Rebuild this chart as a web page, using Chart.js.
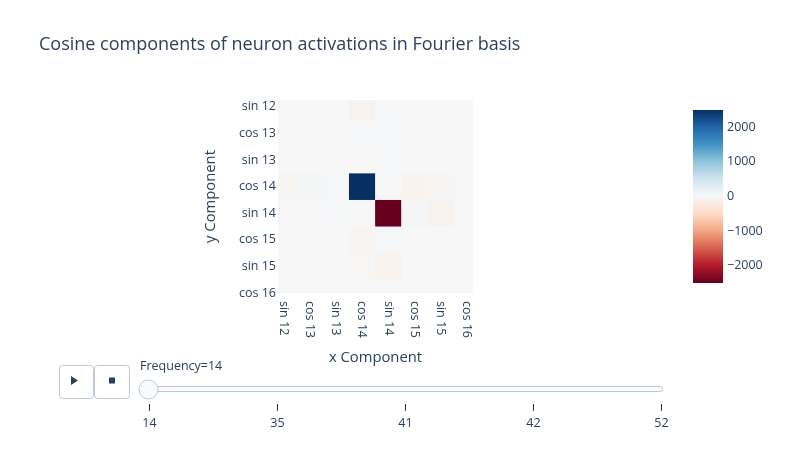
<!DOCTYPE html>
<html lang="en">
<head>
<meta charset="UTF-8">
<title>Cosine components of neuron activations</title>
<script src="https://cdn.jsdelivr.net/npm/chart.js"></script>
<style>
  html, body { margin: 0; padding: 0; background: #fff; }
  canvas { display: block; }
</style>
</head>
<body>
<canvas id="heat" width="785" height="450"></canvas>
<script>
// labels along both axes (x: columns, y: rows top to bottom)
const xLabels = ['sin 12', 'cos 13', 'sin 13', 'cos 14', 'sin 14', 'cos 15', 'sin 15', 'cos 16'];
const yLabels = ['sin 12', 'cos 13', 'sin 13', 'cos 14', 'sin 14', 'cos 15', 'sin 15', 'cos 16'];

// values for frame Frequency=14, one row per y label
const zRows = [
  [0, 0, 0, -90, 25, 0, 0, 0],
  [0, 0, 0, 35, 25, 0, 0, 0],
  [0, 0, 0, -25, 35, 0, 0, 0],
  [-60, 40, 20, 2500, 5, -80, -40, -15],
  [15, 15, 30, 5, -2500, 45, -90, -15],
  [0, 0, 0, -60, 35, 0, 0, 0],
  [0, 0, 0, -20, -85, 0, 0, 0],
  [0, 0, 0, 0, 10, 0, 0, 0]
];

const colorbarTicks = [2000, 1000, 0, -1000, -2000];
const frequencies = [14, 35, 41, 42, 52];
const zMin = -2500;
const zMax = 2500;

const TEXT = '#2a3f5f';
const FONT = '"Open Sans", verdana, arial, sans-serif';

// RdBu diverging scale (low = red, high = blue)
const rdbu = [
  [103, 0, 31], [178, 24, 43], [214, 96, 77], [244, 165, 130], [253, 219, 199],
  [247, 247, 247], [209, 229, 240], [146, 197, 222], [67, 147, 195], [33, 102, 172], [5, 48, 97]
];

function colorFor(v) {
  let t = (v - zMin) / (zMax - zMin);
  t = Math.max(0, Math.min(1, t)) * (rdbu.length - 1);
  const i = Math.min(Math.floor(t), rdbu.length - 2);
  const f = t - i;
  const a = rdbu[i], b = rdbu[i + 1];
  const c = a.map((ch, k) => Math.round(ch + (b[k] - ch) * f));
  return 'rgb(' + c.join(',') + ')';
}

const cells = [];
zRows.forEach((row, yi) => row.forEach((v, xi) => cells.push({ x: xi, y: yi, v: v })));

const heatmapCells = {
  id: 'heatmapCells',
  beforeDatasetsDraw(chart) {
    const { ctx, chartArea: a, scales: { x, y } } = chart;
    ctx.save();
    ctx.beginPath();
    ctx.rect(a.left, a.top, a.right - a.left, a.bottom - a.top);
    ctx.clip();
    chart.data.datasets[0].data.forEach(p => {
      const x0 = x.getPixelForValue(p.x - 0.5), x1 = x.getPixelForValue(p.x + 0.5);
      const y0 = y.getPixelForValue(p.y - 0.5), y1 = y.getPixelForValue(p.y + 0.5);
      ctx.fillStyle = colorFor(p.v);
      ctx.fillRect(Math.min(x0, x1), Math.min(y0, y1), Math.abs(x1 - x0) + 0.5, Math.abs(y1 - y0) + 0.5);
    });
    ctx.restore();
  }
};

const extras = {
  id: 'extras',
  afterDraw(chart) {
    const { ctx, chartArea: a, scales: { x } } = chart;
    ctx.save();

    // title
    ctx.fillStyle = TEXT;
    ctx.font = '18px ' + FONT;
    ctx.textAlign = 'left';
    ctx.textBaseline = 'middle';
    ctx.fillText('Cosine components of neuron activations in Fourier basis', 39, 45);

    // x tick labels, turned clockwise like the original
    ctx.font = '12.5px ' + FONT;
    xLabels.forEach((lab, i) => {
      ctx.save();
      ctx.translate(x.getPixelForValue(i), a.bottom + 8);
      ctx.rotate(Math.PI / 2);
      ctx.textAlign = 'left';
      ctx.textBaseline = 'middle';
      ctx.fillText(lab, 0, 0);
      ctx.restore();
    });

    // colorbar
    const cb = { left: 693, top: 110, width: 30, height: 173 };
    const grad = ctx.createLinearGradient(0, cb.top + cb.height, 0, cb.top);
    rdbu.forEach((c, i) => grad.addColorStop(i / (rdbu.length - 1), 'rgb(' + c.join(',') + ')'));
    ctx.fillStyle = grad;
    ctx.fillRect(cb.left, cb.top, cb.width, cb.height);
    ctx.fillStyle = TEXT;
    ctx.textAlign = 'left';
    ctx.textBaseline = 'middle';
    colorbarTicks.forEach(t => {
      const py = cb.top + (zMax - t) / (zMax - zMin) * cb.height;
      ctx.fillText(String(t).replace('-', '\u2212'), cb.left + cb.width + 4, py);
    });

    // play / stop buttons
    ctx.strokeStyle = '#BEC8D9';
    ctx.lineWidth = 1;
    [[59.5, 34], [94.5, 35]].forEach(([bx, bw]) => {
      ctx.beginPath();
      ctx.roundRect(bx, 365.5, bw, 33, 3);
      ctx.fillStyle = '#fff';
      ctx.fill();
      ctx.stroke();
    });
    ctx.fillStyle = TEXT;
    ctx.beginPath();
    ctx.moveTo(71, 376); ctx.lineTo(71, 385); ctx.lineTo(78, 380.5); ctx.closePath();
    ctx.fill();
    ctx.fillRect(109, 377.5, 6, 6);

    // slider
    const sx0 = 148.5, sx1 = 661;
    ctx.beginPath();
    ctx.roundRect(140.5, 386.5, 522, 5, 2);
    ctx.fillStyle = '#F8FAFC';
    ctx.fill();
    ctx.stroke();
    ctx.strokeStyle = '#333';
    ctx.fillStyle = TEXT;
    ctx.textAlign = 'center';
    frequencies.forEach((f, i) => {
      const tx = Math.round(sx0 + i * (sx1 - sx0) / (frequencies.length - 1)) + 0.5;
      ctx.beginPath();
      ctx.moveTo(tx, 404); ctx.lineTo(tx, 411);
      ctx.stroke();
      ctx.fillText(String(f), tx, 423);
    });
    ctx.textAlign = 'left';
    ctx.fillText('Frequency=' + frequencies[0], 140, 366);
    ctx.beginPath();
    ctx.arc(sx0, 389.5, 9.5, 0, Math.PI * 2);
    ctx.fillStyle = '#F8FAFC';
    ctx.strokeStyle = '#BEC8D9';
    ctx.fill();
    ctx.stroke();

    ctx.restore();
  }
};

new Chart(document.getElementById('heat'), {
  type: 'scatter',
  data: {
    datasets: [{ data: cells, pointRadius: 0, pointHoverRadius: 0 }]
  },
  options: {
    responsive: false,
    animation: false,
    events: [],
    layout: { padding: { left: 198, right: 312, top: 100, bottom: 79 } },
    plugins: { legend: { display: false }, tooltip: { enabled: false } },
    scales: {
      x: {
        type: 'linear',
        min: -0.215,
        max: 7.245,
        grid: { display: false, drawTicks: false },
        border: { display: false },
        ticks: { display: false },
        afterBuildTicks: s => { s.ticks = xLabels.map((_, i) => ({ value: i })); },
        afterFit: s => { s.height = 78; },
        title: { display: true, text: 'x Component', color: TEXT, font: { family: FONT, size: 14.8 } }
      },
      y: {
        type: 'linear',
        reverse: true,
        min: -0.26,
        max: 7.0,
        grid: { display: false, drawTicks: false },
        border: { display: false },
        ticks: {
          color: TEXT,
          padding: 2,
          font: { family: FONT, size: 12.5 },
          callback: v => yLabels[v]
        },
        afterBuildTicks: s => { s.ticks = yLabels.map((_, i) => ({ value: i })); },
        afterFit: s => { s.width = 80; },
        title: { display: true, text: 'y Component', color: TEXT, font: { family: FONT, size: 14.8 } }
      }
    }
  },
  plugins: [heatmapCells, extras]
});
</script>
</body>
</html>
